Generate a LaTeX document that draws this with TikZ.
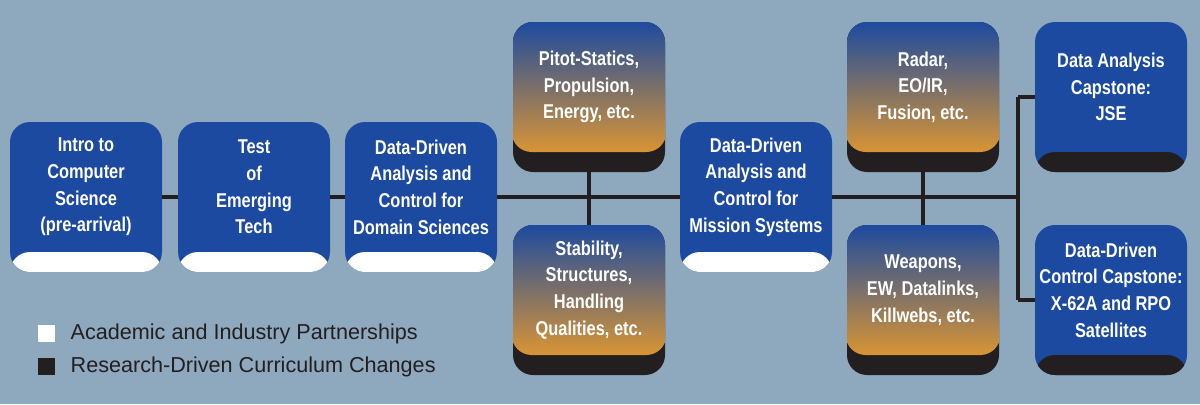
\documentclass[tikz,border=0pt]{standalone}
\usepackage{fontspec}
\setmainfont{Liberation Sans}
\newfontfamily\boxfont[FakeStretch=0.82]{Liberation Sans}
\definecolor{bg}{HTML}{8EA8BE}
\definecolor{bblue}{HTML}{1B4AA0}
\definecolor{bpurple}{HTML}{8A6A8A}
\definecolor{borange}{HTML}{F5A024}
\definecolor{bblack}{HTML}{231F20}
\tikzset{
  box/.style={rounded corners=15pt, minimum width=114pt, minimum height=112.5pt, inner sep=0pt},
  plainbox/.style={box, fill=bblue, path picture={
     \fill[#1] ([yshift=-1pt]path picture bounding box.south west) rectangle ([yshift=15pt]path picture bounding box.south east);}},
  gradbox/.style={box, fill=bblack, path picture={
     \shade[top color=bblue, middle color=bpurple, bottom color=borange] ([yshift=15pt,xshift=-1pt]path picture bounding box.south west) rectangle ([xshift=1pt,yshift=1pt]path picture bounding box.north east);}},
  lbl/.style={text=white, align=center, font=\boxfont\bfseries\fontsize{15pt}{20pt}\selectfont},
  conn/.style={line width=2.3pt, bblack},
  leg/.style={anchor=west, text=bblack, font=\fontsize{16.2pt}{19pt}\selectfont}
}
\begin{document}
\begin{tikzpicture}[x=0.75pt,y=-0.75pt]
\fill[bg] (0,0) rectangle (1200,404);
\useasboundingbox (0,0) rectangle (1200,404);
\node[plainbox=white] (b1) at (86,197) {};
\node[plainbox=white] (b2) at (254,197) {};
\node[plainbox=white] (b3) at (421,197) {};
\node[gradbox] (b4) at (589,97) {};
\node[gradbox] (b5) at (589,300) {};
\node[plainbox=white] (b6) at (756,197) {};
\node[gradbox] (b7) at (923,97) {};
\node[gradbox] (b8) at (923,300) {};
\node[plainbox=bblack] (b9) at (1111,97) {};
\node[plainbox=bblack] (b10) at (1111,300) {};
\coordinate (j3) at (1018,197);
\coordinate (j3t) at (1018,97);
\coordinate (j3b) at (1018,300);
\draw[conn] (b1.east) -- (b2.west);
\draw[conn] (b2.east) -- (b3.west);
\draw[conn] (b3.east) -- (b6.west);
\draw[conn] (b6.east) -- (j3);
\draw[conn] (b4.south) -- (b5.north);
\draw[conn] (b7.south) -- (b8.north);
\draw[conn] (j3t) -- (j3b);
\draw[conn] (j3t) -- (b9.west);
\draw[conn] (j3b) -- (b10.west);
\node[lbl] (t1) at ([yshift=7.5pt]b1.center) {Intro to\\Computer\\Science\\(pre-arrival)};
\node[lbl] (t2) at ([yshift=7.5pt]b2.center) {Test\\of\\Emerging\\Tech};
\node[lbl] (t3) at ([yshift=7.5pt]b3.center) {Data-Driven\\Analysis and\\Control for\\Domain Sciences};
\node[lbl] (t4) at ([yshift=7.5pt]b4.center) {Pitot-Statics,\\Propulsion,\\Energy, etc.};
\node[lbl] (t5) at ([yshift=7.5pt]b5.center) {Stability,\\Structures,\\Handling\\Qualities, etc.};
\node[lbl] (t6) at ([yshift=7.5pt]b6.center) {Data-Driven\\Analysis and\\Control for\\Mission Systems};
\node[lbl] (t7) at ([yshift=7.5pt]b7.center) {Radar,\\EO/IR,\\Fusion, etc.};
\node[lbl] (t8) at ([yshift=7.5pt]b8.center) {Weapons,\\EW, Datalinks,\\Killwebs, etc.};
\node[lbl] (t9) at ([yshift=7.5pt]b9.center) {Data Analysis\\Capstone:\\JSE};
\node[lbl] (t10) at ([yshift=7.5pt]b10.center) {Data-Driven\\Control Capstone:\\X-62A and RPO\\Satellites};
\node[fill=white, minimum size=12.75pt, inner sep=0pt] (s1) at (46.5,333.5) {};
\node[fill=bblack, minimum size=12.75pt, inner sep=0pt] (s2) at (46.5,366.5) {};
\node[leg] (l1) at (66,333.5) {Academic and Industry Partnerships};
\node[leg] (l2) at (66,366.5) {Research-Driven Curriculum Changes};
\end{tikzpicture}
\end{document}
